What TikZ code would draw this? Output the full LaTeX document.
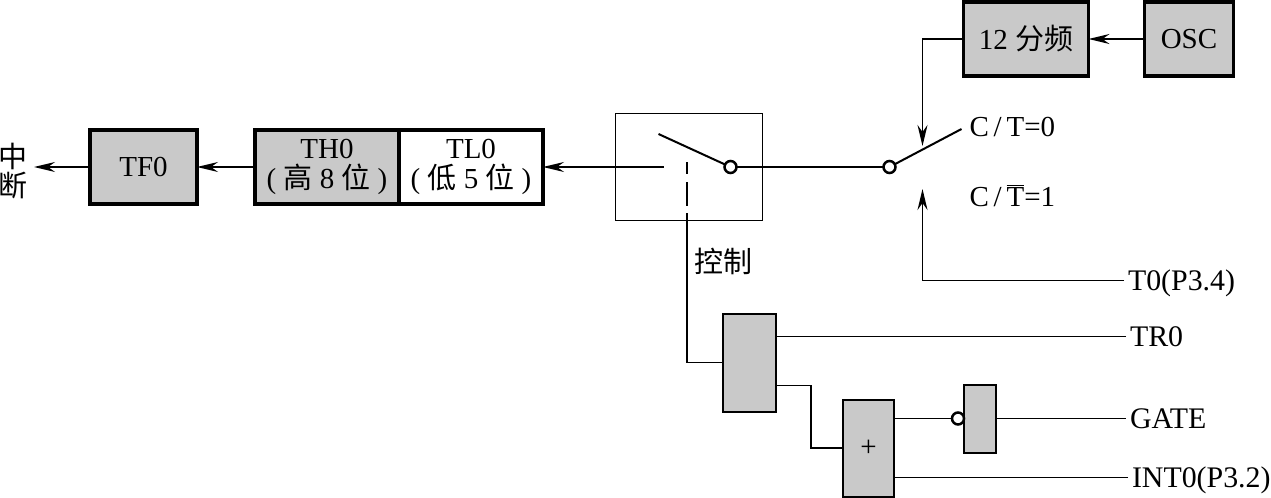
\documentclass[tikz,border=0pt]{standalone}
\usepackage{fontspec}
\setmainfont{Liberation Serif}
\newfontfamily\cjk{Noto Sans CJK SC}
\definecolor{BoxGray}{HTML}{C9C9C9}
\usetikzlibrary{positioning,arrows.meta,calc}
\newcommand{\zh}[1]{{\cjk #1}}

\begin{document}
\begin{tikzpicture}[font=\fontsize{16.5}{17}\selectfont, outer sep=0pt, line width=0.035cm,
    arr/.style={-{Stealth[length=0.42cm,width=0.2cm,inset=0.14cm]}},
    regbox/.style={draw, line width=0.07cm, minimum height=1.48cm, align=center, inner sep=0pt},
    gatebox/.style={draw, line width=0.04cm, fill=BoxGray, inner sep=0pt},
    bubble/.style={draw, circle, fill=white, line width=0.05cm, minimum size=0.24cm, inner sep=0pt},
    lab/.style={inner sep=0.08cm, text height=0.38cm, text depth=0pt, font=\fontsize{17}{17}\selectfont}]
      \useasboundingbox (0,0) rectangle (25.42,-9.96);
      % counter row
      \node[regbox, fill=BoxGray, minimum width=2.14cm] (tfz) at (2.87,-3.34) {TF0};
      \node[regbox, fill=BoxGray, minimum width=2.88cm, right=1.16cm of tfz] (thz) {TH0\\( \zh{高} 8 \zh{位} )};
      \node[regbox, minimum width=2.88cm, right=0pt of thz] (tlz) {TL0\\( \zh{低} 5 \zh{位} )};
      \node[inner sep=0.14cm, align=center, left=1.12cm of tfz.west, yshift=-0.08cm] (outz) {\zh{中}\\\zh{断}};
      \draw[arr] (thz)--(tfz);
      \draw[arr] (tfz.west)--(outz.east |- tfz.west);
      % run switch
      \node[draw, minimum width=2.94cm, minimum height=2.14cm, right=1.45cm of tlz] (swbox) {};
      \node[bubble, left=0.52cm of swbox.east] (sa) {};
      \coordinate[left=1.34cm of sa.center] (swin);
      \coordinate[above left=0.66cm and 1.44cm of sa.center] (atip);
      \coordinate[left=0.04cm of swbox.south] (swdn);
      \coordinate[above=1.16cm of swdn] (dtop);
      \draw[line width=0.04cm] (sa)--(atip);
      \draw[arr] (swin)--(tlz);
      \draw[dash pattern=on 0.24cm off 0.16cm on 0.48cm off 0.14cm on 1cm] (dtop)--(swdn);
      % source select
      \node[bubble, right=2.42cm of swbox.east] (pb) {};
      \draw (sa)--(pb);
      \coordinate[above right=0.76cm and 1.44cm of pb.center] (ptip);
      \coordinate[above right=0.42cm and 0.66cm of pb.center] (ltop);
      \coordinate[below right=0.44cm and 0.66cm of pb.center] (lbot);
      \draw[line width=0.04cm] (pb)--(ptip);
      \node[regbox, fill=BoxGray, minimum width=2.5cm, above right=1.82cm and 1.48cm of pb.center] (fenz) {12 \zh{分频}};
      \node[regbox, fill=BoxGray, minimum width=1.78cm, right=1.12cm of fenz] (oscz) {OSC};
      \draw[arr] (oscz)--(fenz);
      \draw[arr] (fenz.west)-|(ltop);
      \node[lab, above right=0.8cm and 1.52cm of pb.center, anchor=west, font=\fontsize{16.5}{17}\selectfont] (cta) {C\,/\,T=0};
      \node[lab, below right=0.6cm and 1.52cm of pb.center, anchor=west, font=\fontsize{16.5}{17}\selectfont] (ctb) {C\,/\,$\overline{\mbox{T}}$=1};
      % gate logic
      \node[gatebox, minimum width=1.06cm, minimum height=1.96cm, below right=1.86cm and 0.72cm of swdn] (andz) {};
      \node[gatebox, minimum width=1.02cm, minimum height=1.94cm, below right=-0.24cm and 1.34cm of andz.south east] (orz) {+};
      \node[gatebox, minimum width=0.64cm, minimum height=1.36cm, below right=-0.3cm and 1.4cm of orz.north east] (notz) {};
      \node[bubble, left=0pt of notz.west] (nb) {};
      \node[below right=0.56cm and 0.14cm of swdn, inner sep=0pt] (ctlz) {\zh{控制}};
      \node[lab, right=2.6cm of notz.east] (gatez) {GATE};
      \node[lab, above=1.64cm of gatez.west, anchor=west] (trz) {TR0};
      \node[lab, above=2.76cm of gatez.west, anchor=west, xshift=-0.04cm] (t0z) {T0(P3.4)};
      \node[lab, below=1.18cm of gatez.west, anchor=west, xshift=0.04cm] (intz) {INT0(P3.2)};
      \draw (swdn)|-(andz.west);
      \draw (notz)--(gatez);
      \draw (nb)--(orz.east |- nb);
      \draw (intz)--(orz.east |- intz);
      \draw (trz)--(andz.east |- trz);
      \draw[arr] (t0z.west)-|(lbot);
      \coordinate (andlow) at ($(andz.south east)+(0,0.52)$);
      \coordinate (andbend) at ($(andlow)+(0.7,0)$);
      \draw (andlow)-|(andbend)|-(orz.west);
    \end{tikzpicture}
\end{document}
